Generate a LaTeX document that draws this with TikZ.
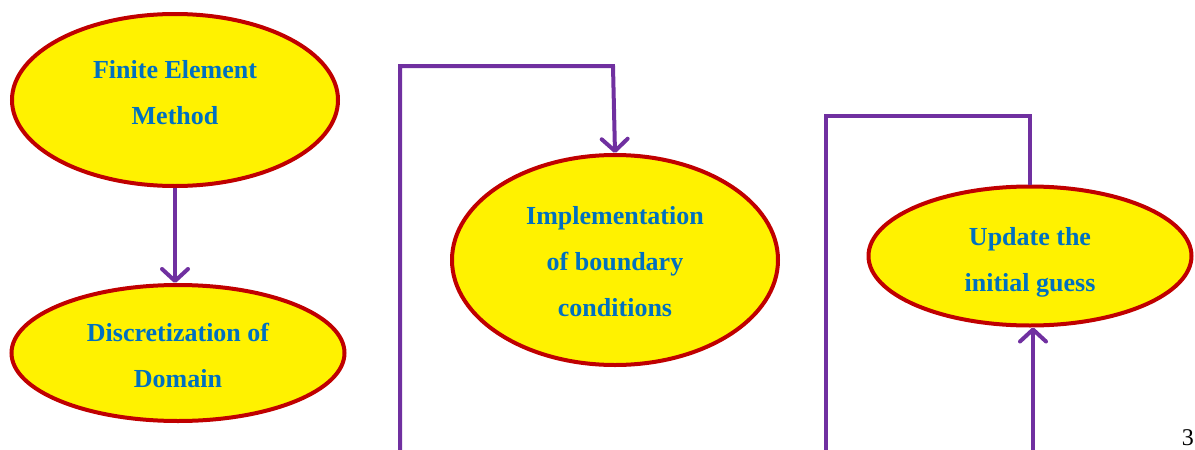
\documentclass[tikz,border=0pt]{standalone}
\usepackage{fontspec}
\setmainfont{Liberation Serif}
\newfontfamily\labelfont{Liberation Serif}
\usetikzlibrary{arrows.meta, positioning, shapes.geometric}
\definecolor{stepblue}{RGB}{0,112,192}
\definecolor{rimred}{RGB}{192,0,0}
\definecolor{flowpurple}{RGB}{112,48,160}
\begin{document}
\begin{tikzpicture}[
        x=1pt, y=-1pt,
        node distance=253pt,
        stage/.style={ellipse, draw=rimred, line width=4pt, fill=yellow, inner sep=0pt,
                      text=stepblue, align=center, font=\labelfont\fontsize{26}{46}\selectfont\bfseries},
        arrow/.style={line width=4pt, draw=flowpurple, -{Straight Barb[length=12pt, width=26pt, round]}},
        link/.style={line width=4pt, draw=flowpurple}
    ]
        \useasboundingbox (0,0) rectangle (1195,450);

        \node[stage, minimum width=326pt, minimum height=172pt] (fem) at (175,100) {Finite Element\\Method\rule[-16pt]{0pt}{0pt}};
        \node[stage, minimum width=333pt, minimum height=136pt, below of=fem, xshift=3pt] (disc) {\rule{0pt}{24pt}Discretization of\\Domain};
        \node[stage, minimum width=326pt, minimum height=210pt] (bound) at (615,260) {\rule{0pt}{22pt}Implementation\\of boundary\\conditions};
        \node[stage, minimum width=323pt, minimum height=139pt] (guess) at (1030,256) {\rule{0pt}{31pt}Update the\\initial guess};

        \coordinate (inleft) at (400,450);
        \coordinate (outmid) at (826,450);
        \coordinate (inright) at (1033,450);

        \node[font=\labelfont\fontsize{24}{28}\selectfont, anchor=east, inner sep=1pt] (pagenum) at (1195,438) {3};

        \draw[arrow] (fem.south) -- (fem.south |- disc.north);
        \draw[arrow] (inleft) |- (613,66) -- (bound.north);
        \draw[link] (guess.north) |- (outmid |- 0,116) -- (outmid);
        \draw[arrow] (inright) -- (inright |- guess.south);
    \end{tikzpicture}
\end{document}
